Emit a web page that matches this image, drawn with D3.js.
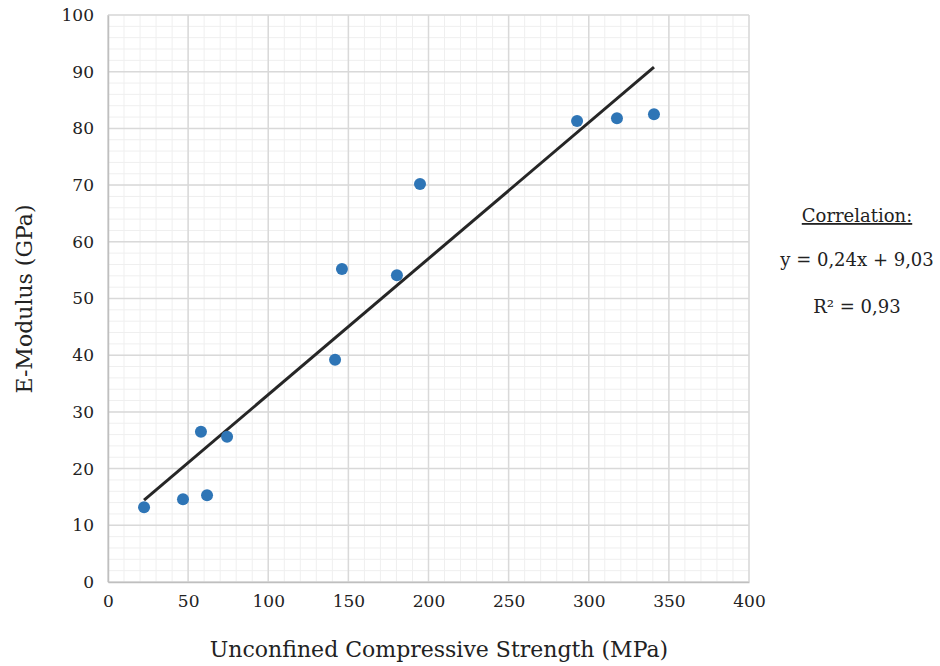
<!DOCTYPE html>
<html><head><meta charset="utf-8">
<script src="https://cdn.jsdelivr.net/npm/d3@7"></script>
<style>body{margin:0;background:#fff;} svg{display:block;}</style>
</head><body>
<svg id="c" width="940" height="666"></svg>
<script>
const ucs = [22.5, 46.8, 61.8, 58.0, 74.3, 141.7, 146.0, 180.3, 194.7, 292.7, 317.6, 340.7];
const emod = [13.2, 14.6, 15.3, 26.5, 25.6, 39.2, 55.2, 54.1, 70.2, 81.3, 81.8, 82.5];
const xTicks = [0, 50, 100, 150, 200, 250, 300, 350, 400];
const yTicks = [0, 10, 20, 30, 40, 50, 60, 70, 80, 90, 100];
const slope = 0.24, intercept = 9.03;
const corrLines = ["Correlation:", "y = 0,24x + 9,03", "R² = 0,93"];

const font = "'DejaVu Serif','Liberation Serif',serif";
const svg = d3.select("#c");
const L = 108, R = 749, T = 15, B = 582;
const x = d3.scaleLinear().domain([0, 400]).range([L, R]);
const y = d3.scaleLinear().domain([0, 100]).range([B, T]);

// minor grid
const xMinor = d3.range(0, 401, 10), yMinor = d3.range(0, 101, 2);
svg.append("g").selectAll("line").data(xMinor).join("line")
  .attr("x1", d => x(d)).attr("x2", d => x(d)).attr("y1", T).attr("y2", B)
  .attr("stroke", "#efefef").attr("stroke-width", 1);
svg.append("g").selectAll("line").data(yMinor).join("line")
  .attr("y1", d => y(d)).attr("y2", d => y(d)).attr("x1", L).attr("x2", R)
  .attr("stroke", "#efefef").attr("stroke-width", 1);
// major grid
svg.append("g").selectAll("line").data(xTicks).join("line")
  .attr("x1", d => x(d)).attr("x2", d => x(d)).attr("y1", T).attr("y2", B)
  .attr("stroke", "#d9d9d9").attr("stroke-width", 1.5);
svg.append("g").selectAll("line").data(yTicks).join("line")
  .attr("y1", d => y(d)).attr("y2", d => y(d)).attr("x1", L).attr("x2", R)
  .attr("stroke", "#d9d9d9").attr("stroke-width", 1.5);

// axes
const xa = svg.append("g").attr("transform", `translate(0,${B})`)
  .call(d3.axisBottom(x).tickValues(xTicks).tickSize(0).tickPadding(13));
const ya = svg.append("g").attr("transform", `translate(${L},0)`)
  .call(d3.axisLeft(y).tickValues(yTicks).tickSize(0).tickPadding(14));
[xa, ya].forEach(a => {
  a.attr("font-family", null).attr("font-size", null);
  a.select(".domain").attr("stroke", "#bfbfbf").attr("stroke-width", 1.5);
  a.selectAll("text").style("font-family", font).style("font-size", "17px").attr("fill", "#222");
});

// trend line
const xs = [d3.min(ucs), d3.max(ucs)];
svg.append("line")
  .attr("x1", x(xs[0])).attr("y1", y(slope * xs[0] + intercept))
  .attr("x2", x(xs[1])).attr("y2", y(slope * xs[1] + intercept))
  .attr("stroke", "#262626").attr("stroke-width", 3);

// points
svg.append("g").selectAll("circle").data(ucs).join("circle")
  .attr("cx", d => x(d)).attr("cy", (d, i) => y(emod[i])).attr("r", 6)
  .attr("fill", "#2e75b6");

// axis titles
svg.append("text").attr("x", 439).attr("y", 657).attr("text-anchor", "middle")
  .style("font-family", font).style("font-size", "22px").attr("fill", "#222")
  .text("Unconfined Compressive Strength (MPa)");
svg.append("text").attr("transform", "translate(32,299) rotate(-90)").attr("text-anchor", "middle")
  .style("font-family", font).style("font-size", "22px").attr("fill", "#222")
  .text("E-Modulus (GPa)");

// correlation text
const cx = 857, cys = [222, 266, 313];
corrLines.forEach((t, i) => {
  const tx = svg.append("text").attr("x", cx).attr("y", cys[i]).attr("text-anchor", "middle")
    .style("font-family", font).style("font-size", "18px").attr("fill", "#222")
    .attr("xml:space", "preserve").style("white-space", "pre").text(t);
  if (i === 0) tx.attr("text-decoration", "underline");
});
</script>
</body></html>
